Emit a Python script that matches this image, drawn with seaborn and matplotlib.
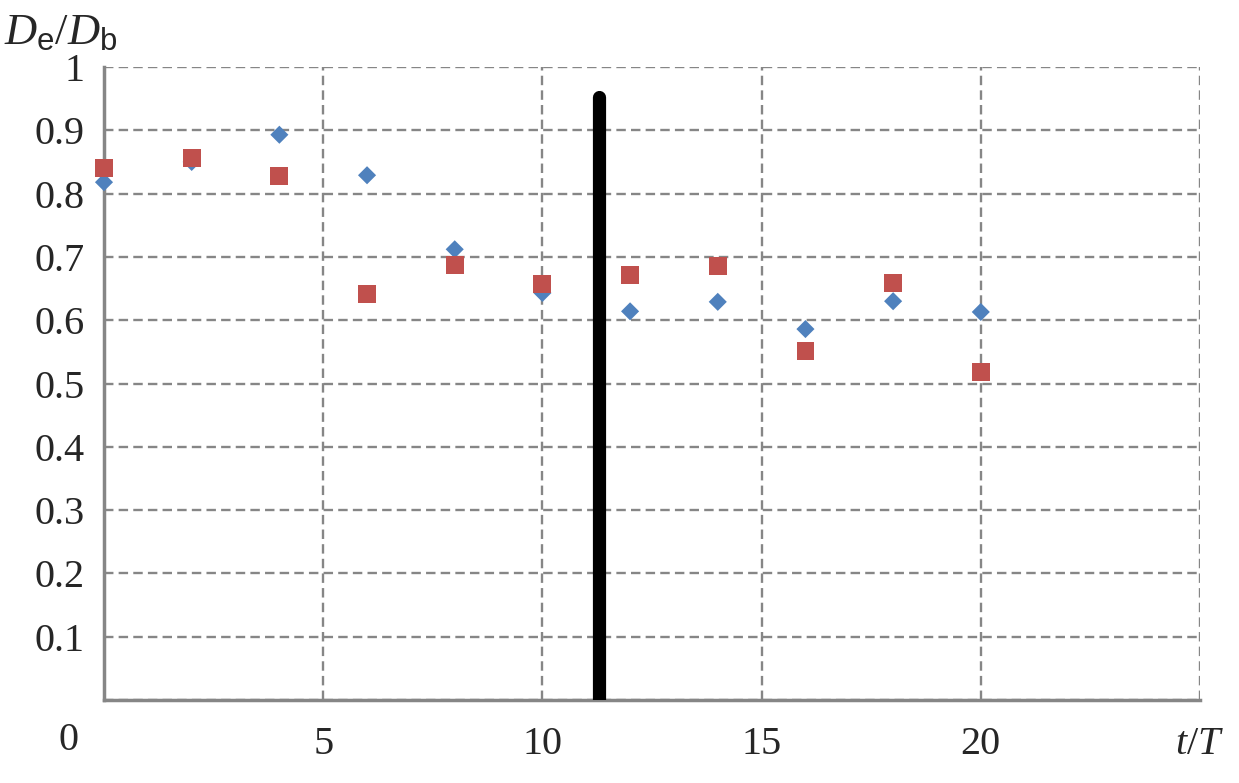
import matplotlib
matplotlib.use('Agg')
import matplotlib.pyplot as plt
import seaborn as sns

# values
t_blue = [0, 2, 4, 6, 8, 10, 12, 14, 16, 18, 20]
de_blue = [0.818, 0.850, 0.893, 0.829, 0.712, 0.643, 0.614, 0.629, 0.586, 0.630, 0.613]
t_red = [0, 2, 4, 6, 8, 10, 12, 14, 16, 18, 20]
de_red = [0.840, 0.856, 0.828, 0.641, 0.687, 0.657, 0.671, 0.686, 0.551, 0.659, 0.518]
split_t = 11.28
split_top = 0.953
x_ticks = [0, 5, 10, 15, 20, 25]
x_labels = ['', '5', '10', '15', '20', '$t/T$']
y_ticks = [0, 0.1, 0.2, 0.3, 0.4, 0.5, 0.6, 0.7, 0.8, 0.9, 1.0]
y_labels = ['', '0.1', '0.2', '0.3', '0.4', '0.5', '0.6', '0.7', '0.8', '0.9', '1']

sns.set_style('white')
plt.rcParams['font.family'] = ['Liberation Serif', 'DejaVu Serif']
plt.rcParams['mathtext.fontset'] = 'custom'
plt.rcParams['mathtext.it'] = 'Liberation Serif:italic'
plt.rcParams['mathtext.rm'] = 'Liberation Serif'
plt.rcParams['mathtext.sf'] = 'Liberation Sans'

GRID = '#868686'
FS = 29
fig = plt.figure(figsize=(12.39, 7.83), dpi=100)
ax = fig.add_axes([104 / 1239, 1 - 700 / 783, 1096 / 1239, 633 / 783])

sns.scatterplot(x=t_blue, y=de_blue, marker='D', s=85, color='#4F81BD',
                edgecolor='none', ax=ax, zorder=3, clip_on=False)
sns.scatterplot(x=t_red, y=de_red, marker='s', s=165, color='#C0504D',
                edgecolor='none', ax=ax, zorder=4, clip_on=False)
ax.plot([split_t, split_t], [0, split_top], color='black', lw=9.5,
        solid_capstyle='round', zorder=5)

ax.set_xlim(0, 25)
ax.set_ylim(0, 1)
ax.set_xticks(x_ticks)
ax.set_xticklabels(x_labels)
ax.set_yticks(y_ticks)
ax.set_yticklabels(y_labels)
ax.tick_params(axis='both', direction='out', length=9, width=2, color=GRID,
               labelsize=FS, pad=10)
ax.tick_params(axis='y', pad=5)
ax.grid(True, color=GRID, ls=(0, (4, 2.2)), lw=1.7)
for s in ['top', 'right']:
    ax.spines[s].set_visible(False)
for s in ['left', 'bottom']:
    ax.spines[s].set_color(GRID)
    ax.spines[s].set_linewidth(2.5)
    ax.spines[s].set_zorder(2)
ax.set_axisbelow(True)

fig.text(68 / 1239, 1 - 740 / 783, '0', fontsize=FS, ha='center', va='center')
fig.text(4 / 1239, 1 - 33 / 783, r'$D_{\mathsf{e}}/D_{\mathsf{b}}$', fontsize=32,
         ha='left', va='center')

plt.savefig('out.png', dpi=100)
plt.close()
